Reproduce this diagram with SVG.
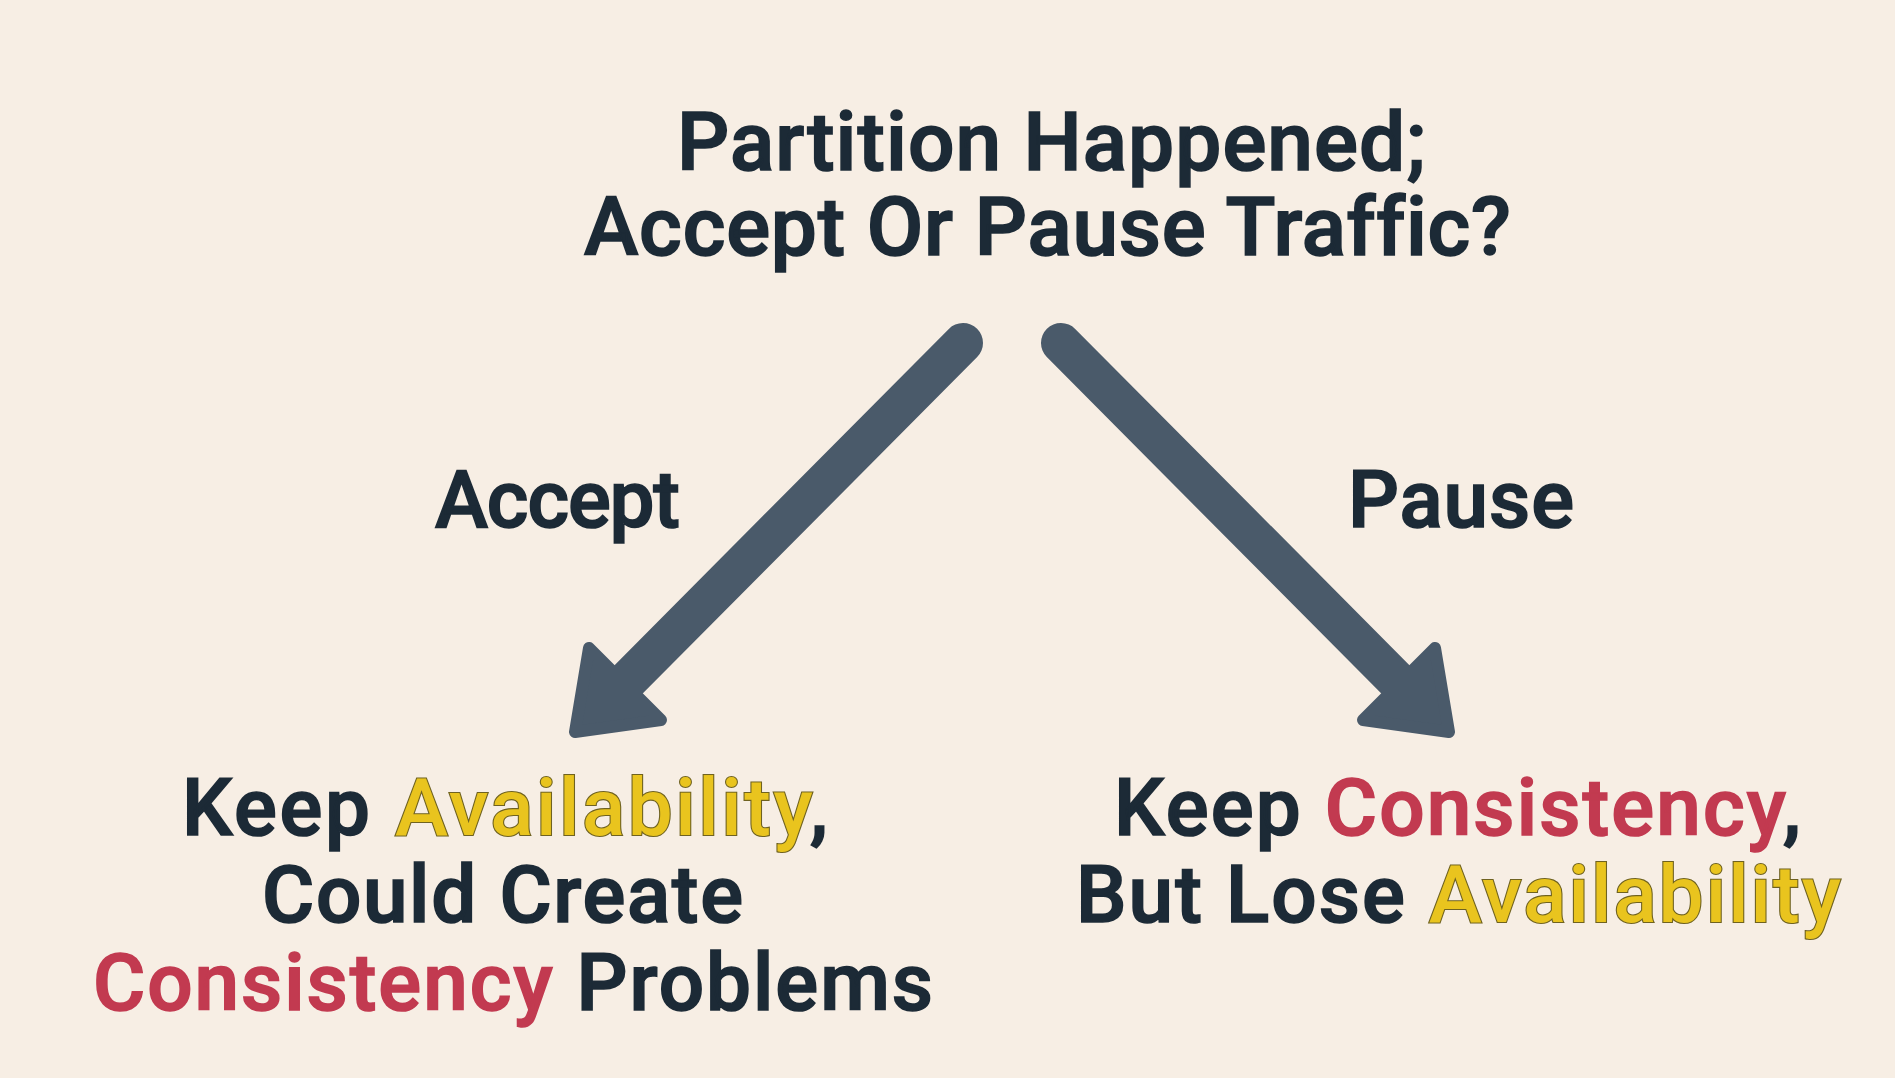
<svg xmlns="http://www.w3.org/2000/svg" width="1895" height="1078" viewBox="0 0 1895 1078">
<style>
text{font-family:Roboto,"Liberation Sans",Arial,sans-serif;font-weight:500;fill:#1c2a36;stroke:#1c2a36;stroke-width:1.6px;font-variant-ligatures:none;font-feature-settings:"liga" 0}
.t{font-size:82px}
.l{font-size:80px}
.r{fill:#c23a50;stroke:#c23a50}
.y{fill:#e9c41e;stroke:#6f6220;stroke-width:2.2px;paint-order:stroke fill}
.shaft{stroke:#4a5a6a;stroke-width:40;stroke-linecap:round;fill:none}
.head{fill:#4a5a6a;stroke:#4a5a6a;stroke-width:12;stroke-linejoin:round}
</style>
<rect width="1895" height="1078" fill="#f7eee4"/>
<g id="connectors">
<g id="arrow-accept">
<line class="shaft" x1="963" y1="343" x2="626" y2="682"/>
<polygon class="head" points="575,732 589,648 661,720"/>
</g>
<g id="arrow-pause">
<line class="shaft" x1="1061" y1="343" x2="1398" y2="682"/>
<polygon class="head" points="1449,732 1435,648 1363,720"/>
</g>
</g>
<g id="question">
<text class="t" x="677" y="170" textLength="749" lengthAdjust="spacing">Partition Happened;</text>
<text class="t" x="584" y="255" textLength="927" lengthAdjust="spacing">Accept Or Pause Traffic?</text>
</g>
<g id="label-accept">
<text class="l" x="435" y="527" textLength="245" lengthAdjust="spacing">Accept</text>
</g>
<g id="label-pause">
<text class="l" x="1348" y="527" textLength="226" lengthAdjust="spacing">Pause</text>
</g>
<g id="outcome-accept">
<text class="l" x="182" y="835" textLength="646" lengthAdjust="spacing">Keep <tspan class="y">Availability</tspan>,</text>
<text class="l" x="262" y="922" textLength="481" lengthAdjust="spacing">Could Create</text>
<text class="l" x="93" y="1010" textLength="840" lengthAdjust="spacing"><tspan class="r">Consistency</tspan> Problems</text>
</g>
<g id="outcome-pause">
<text class="l" x="1114" y="835" textLength="687" lengthAdjust="spacing">Keep <tspan class="r">Consistency</tspan>,</text>
<text class="l" x="1076" y="922" textLength="765" lengthAdjust="spacing">But Lose <tspan class="y">Availability</tspan></text>
</g>
</svg>
